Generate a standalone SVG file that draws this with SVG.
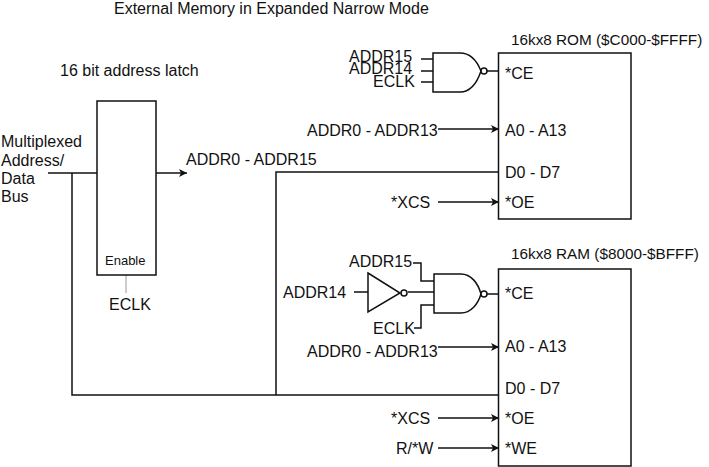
<svg xmlns="http://www.w3.org/2000/svg" width="709" height="467" viewBox="0 0 709 467">
<style>
text{font-family:"Liberation Sans",Arial,sans-serif;font-size:16px;fill:#111}
.s{font-size:13px}
.m{font-size:15.3px}
.l{fill:none;stroke:#111;stroke-width:1.5}
.g{fill:#fff;stroke:#111;stroke-width:1.5}
</style>
<defs>
<marker id="a" markerUnits="userSpaceOnUse" markerWidth="9" markerHeight="8" refX="8" refY="4" orient="auto"><path d="M0 0L8 4L0 8L2 4Z" fill="#111"/></marker>
</defs>
<rect width="709" height="467" fill="#fff"/>
<text x="114" y="14">External Memory in Expanded Narrow Mode</text>
<g id="connectors">
<path class="l" d="M48 173H97"/>
<path class="l" d="M72 173V395H499"/>
<path class="l" d="M156 173H187" marker-end="url(#a)"/>
<path d="M126 275V293" fill="none" stroke="#999" stroke-width="1"/>
<path class="l" d="M276 395V172H499"/>
<path class="l" d="M421 59H433M421 71H433M421 82H433M487 71H499"/>
<path class="l" d="M438 129H499" marker-end="url(#a)"/>
<path class="l" d="M438 202H499" marker-end="url(#a)"/>
<path class="l" d="M413 263H421V281H434M354 292H368M408 292H434M414 328H421V305H434M487 294H499"/>
<path class="l" d="M438 347H499" marker-end="url(#a)"/>
<path class="l" d="M438 418H499" marker-end="url(#a)"/>
<path class="l" d="M438 448H499" marker-end="url(#a)"/>
</g>
<g id="latch">
<rect class="g" x="97" y="101" width="59" height="174"/>
<text x="60" y="76">16 bit address latch</text>
<text class="s" x="105" y="265">Enable</text>
<text x="109" y="310">ECLK</text>
<text x="1" y="147">Multiplexed</text>
<text x="1" y="166">Address/</text>
<text x="1" y="184">Data</text>
<text x="1" y="202">Bus</text>
<text x="186" y="165">ADDR0 - ADDR15</text>
</g>
<g id="rom">
<rect class="g" x="498.500" y="53" width="132.500" height="166"/>
<text class="m" x="511" y="45">16kx8 ROM ($C000-$FFFF)</text>
<text x="505" y="79">*CE</text>
<text x="505" y="136">A0 - A13</text>
<text x="505" y="178">D0 - D7</text>
<text x="505" y="208">*OE</text>
</g>
<g id="rom-nand">
<path class="g" d="M433 53H460C470 53 477 61 481 71C477 83 470 92 460 92H433Z"/>
<circle class="g" cx="484" cy="71" r="3"/>
<text x="349" y="62">ADDR15</text>
<text x="349" y="74">ADDR14</text>
<text x="373" y="87">ECLK</text>
</g>
<text x="307" y="136">ADDR0 - ADDR13</text>
<text x="391" y="208">*XCS</text>
<g id="ram">
<rect class="g" x="498.500" y="269" width="132.500" height="197"/>
<text class="m" x="511" y="259">16kx8 RAM ($8000-$BFFF)</text>
<text x="505" y="299">*CE</text>
<text x="505" y="352">A0 - A13</text>
<text x="505" y="394">D0 - D7</text>
<text x="505" y="424">*OE</text>
<text x="505" y="454">*WE</text>
</g>
<g id="ram-nand">
<path class="g" d="M434 274H461C471 274 478 283 481 294C478 304 471 313 461 313H434Z"/>
<circle class="g" cx="484" cy="294" r="3"/>
</g>
<g id="inverter">
<path class="g" d="M368 273L400 293L368 312Z"/>
<circle class="g" cx="404" cy="293" r="3"/>
</g>
<text x="349" y="267">ADDR15</text>
<text x="283" y="298">ADDR14</text>
<text x="373" y="334">ECLK</text>
<text x="307" y="357">ADDR0 - ADDR13</text>
<text x="391" y="424">*XCS</text>
<text x="396" y="454">R/*W</text>
</svg>
